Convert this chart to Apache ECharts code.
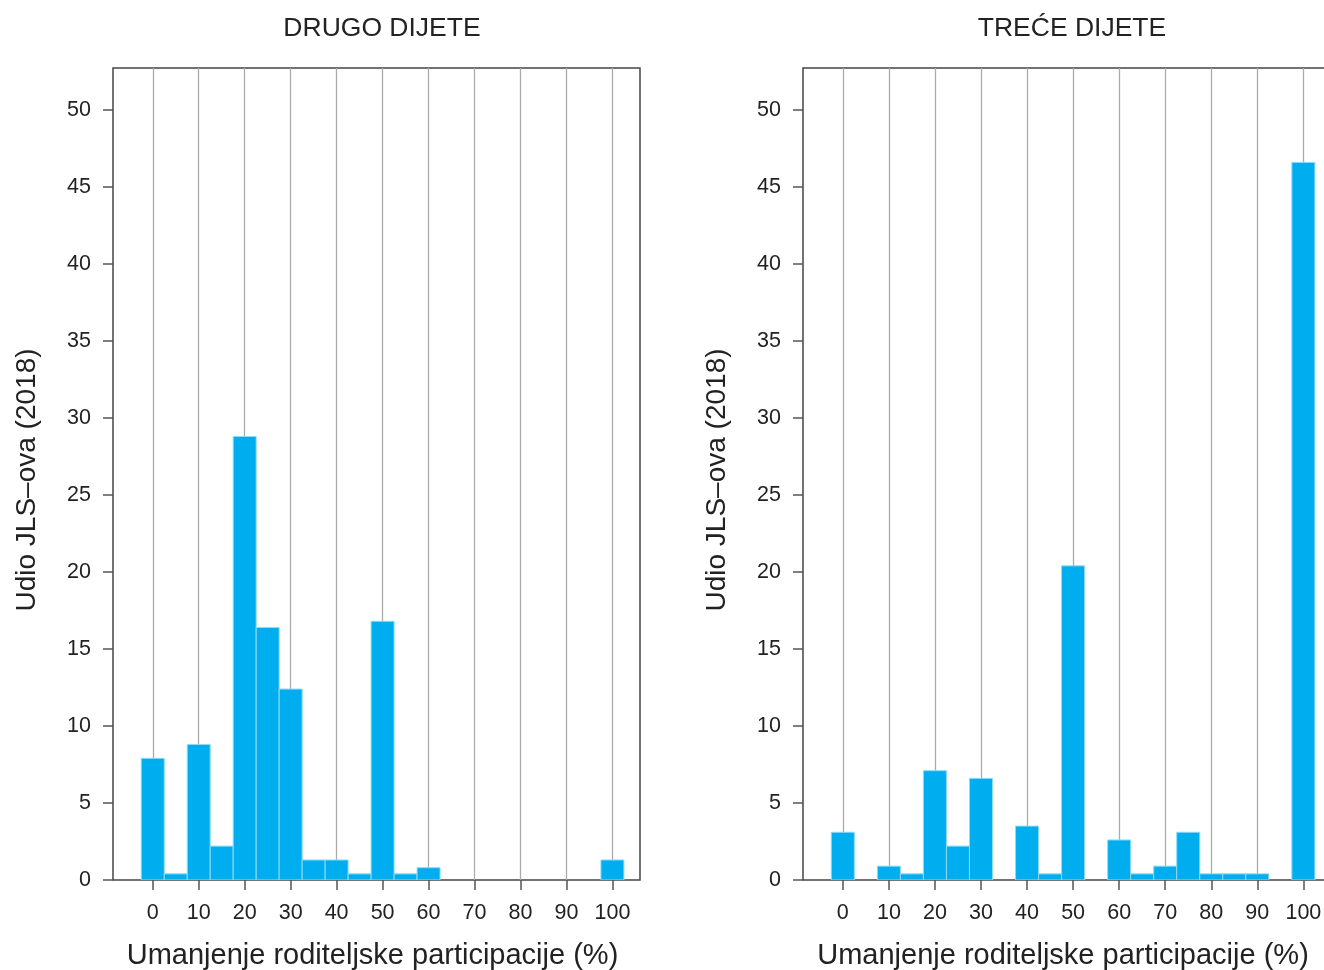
<!DOCTYPE html>
<html>
<head>
<meta charset="utf-8">
<script src="https://cdn.jsdelivr.net/npm/echarts@6/dist/echarts.min.js"></script>
<style>html,body{margin:0;padding:0;background:#fff;}#c{width:1324px;height:970px;}</style>
</head>
<body>
<div id="c"></div>
<script>
// Bin centres (% reduction), bars are 5 units wide
var bins = [0,5,10,15,20,25,30,35,40,45,50,55,60,65,70,75,80,85,90,95,100];
// Share of JLS (%) - second child
var drugoDijete = [7.9,0.4,8.8,2.2,28.8,16.4,12.4,1.3,1.3,0.4,16.8,0.4,0.8,0,0,0,0,0,0,0,1.3];
// Share of JLS (%) - third child
var treceDijete = [3.1,0,0.9,0.4,7.1,2.2,6.6,0,3.5,0.4,20.4,0,2.6,0.4,0.9,3.1,0.4,0.4,0.4,0,46.6];
var xTicks = [0,10,20,30,40,50,60,70,80,90,100];
var yTicks = [0,5,10,15,20,25,30,35,40,45,50];
var titles = ['DRUGO DIJETE','TREĆE DIJETE'];
var xName = 'Umanjenje roditeljske participacije (%)';
var yName = 'Udio JLS\u2013ova (2018)';

var FONT = '"Liberation Sans", Arial, sans-serif';
var binW = 5;

function pairs(vals){ return bins.map(function(b,i){ return [b, vals[i]]; }); }

function renderBar(params, api){
  var x = api.value(0), y = api.value(1);
  if (!y) return null;
  var p1 = api.coord([x - binW/2, y]);
  var p2 = api.coord([x + binW/2, 0]);
  return {
    type: 'rect',
    shape: {x: p1[0], y: p1[1], width: p2[0]-p1[0], height: p2[1]-p1[1]},
    style: {fill: '#00AEEF', stroke: '#8fdaf6', lineWidth: 1}
  };
}

function xAxisCfg(gi){
  return {
    type: 'value', gridIndex: gi, min: -8.65, max: 106,
    axisLine: {show: false, onZero: false},
    axisTick: {show: true, inside: false, length: 10, lineStyle: {color: '#555', width: 1.5}, customValues: xTicks},
    axisLabel: {customValues: xTicks, color: '#222', fontSize: 21.5, fontFamily: FONT, margin: 22},
    splitLine: {show: true, lineStyle: {color: '#ababab', width: 1.3}},
    name: xName, nameLocation: 'middle', nameGap: 61,
    nameTextStyle: {color: '#222', fontSize: 29, fontFamily: FONT, padding: [0, 8, 0, 0]}
  };
}
function yAxisCfg(gi){
  return {
    type: 'value', gridIndex: gi, min: 0, max: 52.73,
    axisLine: {show: false, onZero: false},
    axisTick: {show: true, inside: false, length: 10, lineStyle: {color: '#555', width: 1.5}, customValues: yTicks},
    axisLabel: {customValues: yTicks, color: '#222', fontSize: 21.5, fontFamily: FONT, margin: 22},
    splitLine: {show: false},
    name: yName, nameLocation: 'middle', nameGap: 72,
    nameTextStyle: {color: '#222', fontSize: 28, fontFamily: FONT, padding: [0, 12, 0, 0]}
  };
}

var chart = echarts.init(document.getElementById('c'), null, {renderer: 'canvas'});
chart.setOption({
  animation: false,
  backgroundColor: '#fff',
  title: [
    {text: titles[0], left: 377, top: 10, textAlign: 'center', textStyle: {color: '#222', fontSize: 26.5, fontWeight: 'normal', fontFamily: FONT}},
    {text: titles[1], left: 1067, top: 10, textAlign: 'center', textStyle: {color: '#222', fontSize: 26.5, fontWeight: 'normal', fontFamily: FONT}}
  ],
  grid: [
    {left: 113, top: 68, width: 527, height: 812, outerBoundsMode: 'none', containLabel: false, show: true, borderColor: '#444', borderWidth: 1.5, backgroundColor: 'transparent'},
    {left: 803, top: 68, width: 528, height: 812, outerBoundsMode: 'none', containLabel: false, show: true, borderColor: '#444', borderWidth: 1.5, backgroundColor: 'transparent'}
  ],
  xAxis: [xAxisCfg(0), xAxisCfg(1)],
  yAxis: [yAxisCfg(0), yAxisCfg(1)],
  series: [
    {type: 'custom', xAxisIndex: 0, yAxisIndex: 0, renderItem: renderBar, data: pairs(drugoDijete), clip: true},
    {type: 'custom', xAxisIndex: 1, yAxisIndex: 1, renderItem: renderBar, data: pairs(treceDijete), clip: true}
  ]
});
</script>
</body>
</html>
